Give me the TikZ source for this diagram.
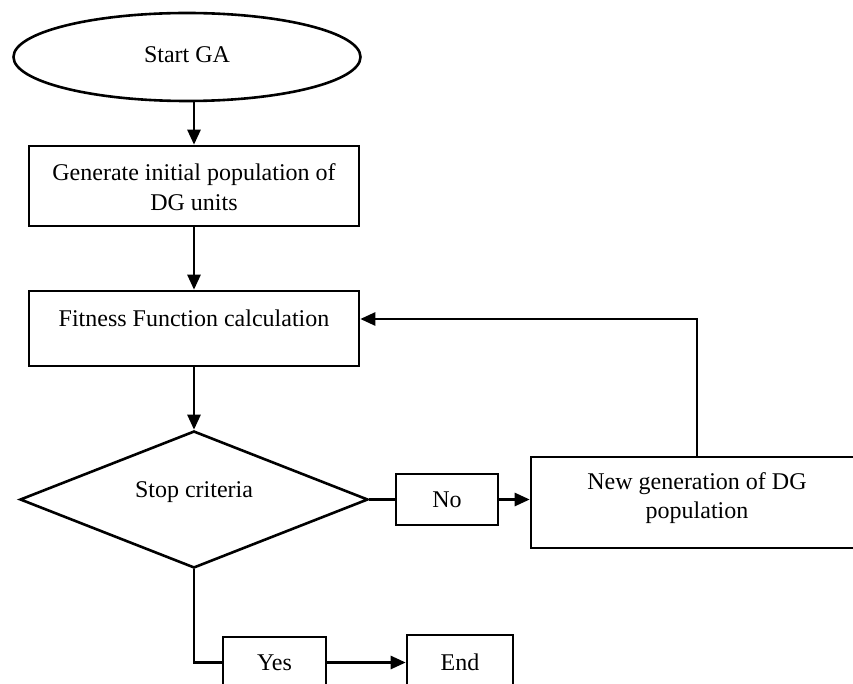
\documentclass[tikz,border=0pt]{standalone}
\usepackage{fontspec}
\setmainfont{Liberation Serif}
\usetikzlibrary{shapes.geometric,arrows.meta}

\tikzset{
  every node/.style={font=\fontsize{24}{29.5}\selectfont},
  flowline/.style={line width=2.6pt},
  flowarrow/.style={flowline, -{Triangle[length=15pt,width=13pt]}},
  procbox/.style={draw, line width=2.6pt, rectangle, inner sep=0pt},
  startend/.style={draw, line width=2.6pt, ellipse, inner sep=0pt},
  decision/.style={draw, line width=2.6pt, diamond, inner sep=0pt},
  caption/.style={align=center, inner sep=0pt}
}

\begin{document}
\begin{tikzpicture}[x=1pt, y=-1pt]
  \useasboundingbox (0,0) rectangle (853,684);
  \clip (0,0) rectangle (853,684);

  % start terminal
  \node[startend, minimum width=347pt, minimum height=88pt] (start) at (187,57) {};
  \node[caption] (starttext) at (187,55) {Start GA};

  % initialisation
  \node[procbox, minimum width=330pt, minimum height=80pt] (gen) at (194,186) {};
  \node[caption] (gentext) at (194,187) {Generate initial population of\\DG units};

  % fitness evaluation
  \node[procbox, minimum width=330pt, minimum height=75pt] (fit) at (194,328.5) {};
  \node[caption] (fittext) at (194,318) {Fitness Function calculation};

  % stopping test
  \node[decision, minimum width=348pt, minimum height=137pt] (stop) at (194,499.5) {};
  \node[caption] (stoptext) at (194,492) {Stop criteria};

  % branch labels
  \node[procbox, minimum width=102pt, minimum height=51pt] (no) at (447,499.5) {No};
  \node[procbox, minimum width=103pt, minimum height=51pt] (yes) at (274.5,662.5) {Yes};
  \node[procbox, minimum width=106pt, minimum height=54pt] (end) at (460,662) {End};

  % next generation
  \node[procbox, minimum width=332pt, minimum height=91pt] (newgen) at (697,502.5) {};
  \node[caption] (newgentext) at (697,498) {New generation of DG\\population};

  \coordinate (loopcorner) at (696,319);

  % connectors
  \draw[flowarrow] (start.south -| gen.north) -- (gen.north);
  \draw[flowarrow] (gen.south) -- (fit.north);
  \draw[flowarrow] (fit.south) -- (stop.north);
  \draw[flowline] (stop.east) -- (no.west);
  \draw[flowarrow] (no.east) -- (no.east -| newgen.west);
  \draw[flowarrow] (newgen.north) |- (fit.east |- loopcorner);
  \draw[flowline] (stop.south) |- (yes.west);
  \draw[flowarrow] (yes.east) -- (yes.east -| end.west);
\end{tikzpicture}
\end{document}
